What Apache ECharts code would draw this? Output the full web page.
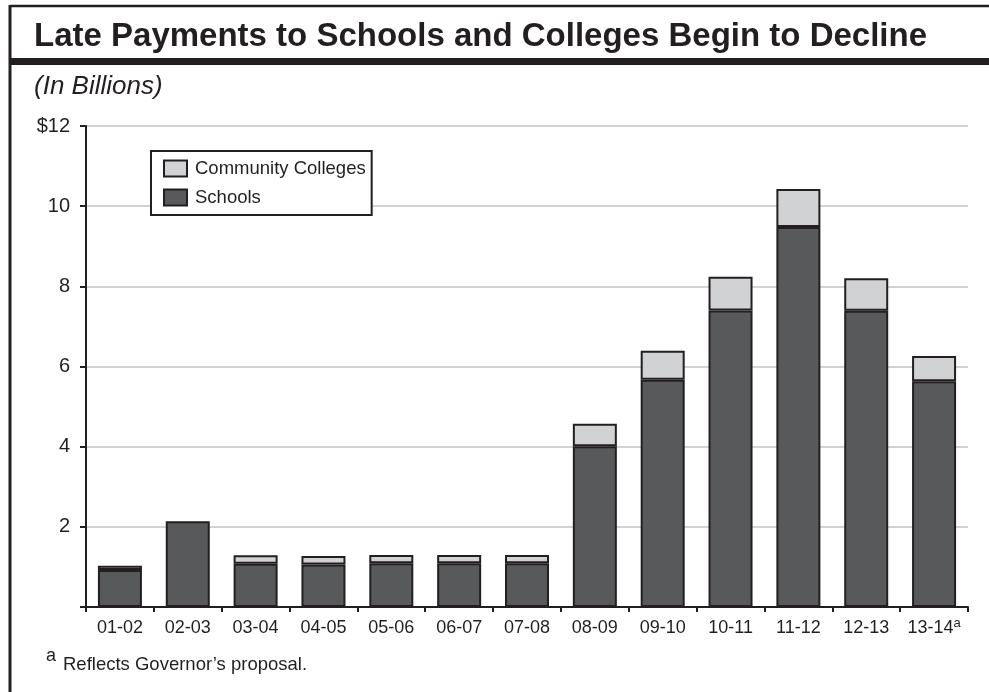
<!DOCTYPE html>
<html>
<head>
<meta charset="utf-8">
<script src="https://cdn.jsdelivr.net/npm/echarts@6/dist/echarts.min.js"></script>
<style>
  html, body { margin: 0; padding: 0; background: #fff; }
  #chart { width: 989px; height: 692px; }
</style>
</head>
<body>
<div id="chart"></div>
<script>
// ---- Data (in billions of dollars) ----
const categories = ['01-02', '02-03', '03-04', '04-05', '05-06', '06-07', '07-08', '08-09', '09-10', '10-11', '11-12', '12-13', '13-14'];
const schools = [0.92, 2.14, 1.08, 1.06, 1.09, 1.09, 1.09, 4.01, 5.67, 7.40, 9.48, 7.39, 5.63];
const communityColleges = [0.11, null, 0.21, 0.21, 0.21, 0.21, 0.21, 0.56, 0.72, 0.84, 0.95, 0.81, 0.63];
const yTicks = [0, 2, 4, 6, 8, 10, 12];
const footnotedCategory = '13-14';

const INK = '#231f20';
const FONT = '"Liberation Sans", Arial, Helvetica, sans-serif';

const chart = echarts.init(document.getElementById('chart'), null, { renderer: 'canvas' });

const option = {
  backgroundColor: '#ffffff',
  animation: false,
  textStyle: { fontFamily: FONT, color: INK },
  title: {
    text: 'Late Payments to Schools and Colleges Begin to Decline',
    left: 34,
    top: 20,
    padding: 0,
    textStyle: { fontFamily: FONT, fontSize: 33, fontWeight: 'bold', color: INK }
  },
  legend: {
    data: ['Community Colleges', 'Schools'],
    orient: 'vertical',
    left: 151,
    top: 151,
    padding: [8, 6, 8, 12],
    itemWidth: 23,
    itemHeight: 16,
    itemGap: 10,
    borderColor: INK,
    borderWidth: 2,
    backgroundColor: '#ffffff',
    icon: 'rect',
    selectedMode: false,
    textStyle: { fontFamily: FONT, fontSize: 18.5, color: INK, padding: [0, 0, 0, 3] }
  },
  grid: { left: 86, right: 21, top: 126, bottom: 85, containLabel: false },
  xAxis: {
    type: 'category',
    data: categories,
    axisLine: { lineStyle: { color: INK, width: 2 } },
    axisTick: { show: true, alignWithLabel: false, length: 5, lineStyle: { color: INK, width: 2 } },
    axisLabel: {
      interval: 0,
      fontFamily: FONT, fontSize: 18, lineHeight: 22, color: INK, margin: 10,
      formatter: v => v === footnotedCategory ? '{n|' + v + '}{sup|a}' : v,
      rich: {
        n: { fontSize: 18, lineHeight: 22, color: INK, fontFamily: FONT },
        sup: { fontSize: 13, lineHeight: 8, color: INK, fontFamily: FONT, verticalAlign: 'top' }
      }
    },
    splitLine: { show: false }
  },
  yAxis: {
    type: 'value',
    min: yTicks[0],
    max: yTicks[yTicks.length - 1],
    interval: 2,
    axisLine: { show: true, lineStyle: { color: INK, width: 2 } },
    axisTick: { show: true, length: 6, lineStyle: { color: INK, width: 2 } },
    axisLabel: {
      fontFamily: FONT, fontSize: 20, color: INK, margin: 16,
      formatter: v => v === 0 ? '' : (v === 12 ? '$' + v : String(v))
    },
    splitLine: { show: true, lineStyle: { color: '#d1d2d4', width: 2 } }
  },
  series: [
    {
      name: 'Schools',
      type: 'bar',
      stack: 'total',
      data: schools,
      barWidth: 44,
      itemStyle: { color: '#58595b', borderColor: INK, borderWidth: 2 }
    },
    {
      name: 'Community Colleges',
      type: 'bar',
      stack: 'total',
      data: communityColleges,
      barWidth: 44,
      itemStyle: { color: '#d1d2d4', borderColor: INK, borderWidth: 2 }
    }
  ],
  graphic: [
    // frame: top line, left line, thick band under title
    { type: 'line', shape: { x1: 10, y1: 6, x2: 989, y2: 6 }, style: { stroke: INK, lineWidth: 2.5 }, silent: true },
    { type: 'line', shape: { x1: 10, y1: 5, x2: 10, y2: 692 }, style: { stroke: INK, lineWidth: 3 }, silent: true },
    { type: 'rect', shape: { x: 10, y: 58, width: 979, height: 7 }, style: { fill: INK }, silent: true },
    { type: 'text', left: 34, top: 74, style: { text: '(In Billions)', font: 'italic 26px ' + FONT, fill: INK } },
    { type: 'text', x: 46, y: 656, style: { text: 'a', font: '18px ' + FONT, fill: INK, verticalAlign: 'middle' } },
    { type: 'text', x: 63, y: 665, style: { text: 'Reflects Governor\u2019s proposal.', font: '18.5px ' + FONT, fill: INK, verticalAlign: 'middle' } }
  ]
};

chart.setOption(option);
</script>
</body>
</html>
